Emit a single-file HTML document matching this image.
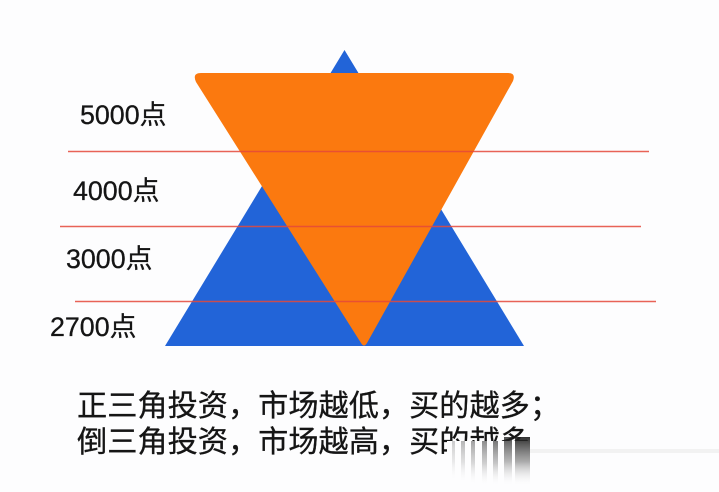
<!DOCTYPE html>
<html>
<head>
<meta charset="utf-8">
<style>
html,body{margin:0;padding:0;width:719px;height:492px;overflow:hidden;background:#fdfdfe}
svg{display:block;position:absolute;left:0;top:0}
text{font-family:"Liberation Sans","Noto Sans CJK SC",sans-serif;fill:#151515;stroke:#151515;stroke-width:0.300}
</style>
</head>
<body>
<svg width="719" height="492" viewBox="0 0 719 492" xmlns="http://www.w3.org/2000/svg">
<defs>
<linearGradient id="fade" x1="0" y1="0" x2="0" y2="1">
<stop offset="0" stop-color="#1a1a1a" stop-opacity="0.900"/>
<stop offset="0.500" stop-color="#666" stop-opacity="0.550"/>
<stop offset="1" stop-color="#fff" stop-opacity="0"/>
</linearGradient>
</defs>
<rect width="719" height="492" fill="#fdfdfe"/>
<polygon points="344.500,50 524,346 165,346" fill="#2264d8"/>
<path d="M201,73 H508 Q516,73 513,81 L367,343 Q364,348 361,343 L196,82 Q192,73 201,73 Z" fill="#fb790f"/>
<line x1="68" y1="151.500" x2="649" y2="151.500" stroke="#e5493a" stroke-width="1.600" opacity="0.850"/>
<line x1="60" y1="226.500" x2="641" y2="226.500" stroke="#e5493a" stroke-width="1.600" opacity="0.850"/>
<line x1="75" y1="301.500" x2="656" y2="301.500" stroke="#e5493a" stroke-width="1.600" opacity="0.850"/>
<text x="80" y="124" font-size="26.800">5000点</text>
<text x="73" y="200" font-size="26.800">4000点</text>
<text x="66" y="268" font-size="26.800">3000点</text>
<text x="50" y="336" font-size="26.800">2700点</text>
<text x="77" y="416" font-size="30.200">正三角投资&#xFF0C;市场越低&#xFF0C;买的越多&#xFF1B;</text>
<text x="77" y="452" font-size="30.200">倒三角投资&#xFF0C;市场越高&#xFF0C;买的越多</text>
<rect x="447" y="441" width="90" height="51" fill="#fdfdfe"/>
<rect x="452" y="441" width="3" height="40" fill="url(#fade)" opacity="0.250"/>
<rect x="461" y="441" width="4" height="42" fill="url(#fade)" opacity="0.350"/>
<rect x="471" y="441" width="4" height="44" fill="url(#fade)" opacity="0.450"/>
<rect x="482" y="441" width="5" height="45" fill="url(#fade)" opacity="0.550"/>
<rect x="493" y="441" width="5" height="45" fill="url(#fade)" opacity="0.650"/>
<rect x="504" y="437" width="8" height="49" fill="url(#fade)" opacity="0.850"/>
<rect x="515" y="437" width="15" height="49" fill="url(#fade)"/>
<rect x="530" y="449" width="189" height="4" fill="#ececec" opacity="0.700"/>
</svg>
</body>
</html>
